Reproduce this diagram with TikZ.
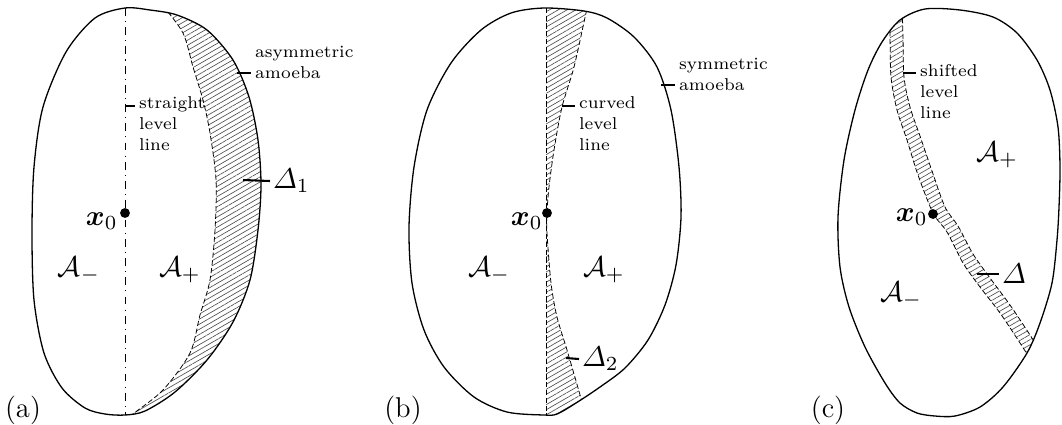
\documentclass[tikz,border=0pt]{standalone}
\usepackage{fix-cm}
\usepackage{amsmath,amssymb}
\usetikzlibrary{patterns.meta, calc}

\newcommand{\shapeA}{plot[smooth cycle] coordinates {(125,8) (150,10) (177,15) (207,30) (233,60) (249,97) (258,140) (261,185) (258,230) (250,280) (233,322) (207,360) (175,392) (145,411) (125,415) (105,414) (85,408) (62,388) (44,353) (34,300) (32,233) (34,167) (43,107) (66,52) (95,18)}}
\newcommand{\shapeB}{plot[smooth cycle] coordinates {(544,8) (584,11) (607,18) (634,37) (657,67) (671,110) (679,167) (681,217) (676,265) (665,305) (648,340) (625,368) (600,387) (576,403) (557,414) (544,415) (507,412) (474,397) (444,367) (424,330) (412,283) (409,227) (414,167) (427,110) (451,63) (481,30) (511,13)}}
\newcommand{\shapeC}{plot[smooth cycle] coordinates {(925,9) (960,10) (993,17) (1017,33) (1037,60) (1050,90) (1058,127) (1060,167) (1059,207) (1057,240) (1052,283) (1040,323) (1027,353) (1003,387) (980,407) (955,416) (935,416) (917,413) (900,403) (885,383) (865,347) (849,307) (840,267) (838,217) (844,160) (855,110) (868,70) (882,42) (900,20)}}

\begin{document}
\begin{tikzpicture}[
    x=0.01352cm, y=-0.01352cm,
    amoeba/.style={line width=0.5pt},
    levelline/.style={dash dot, line width=0.35pt},
    bandedge/.style={dash pattern=on 2pt off 1pt, line width=0.3pt},
    hatch/.style={pattern={Lines[angle=30, distance=1.7pt, line width=0.25pt]}, pattern color=black!70},
    leader/.style={line width=0.8pt},
    note/.style={font=\fontsize{6.6}{8}\selectfont, align=left, inner xsep=1.4pt, inner ysep=0pt},
    mlabel/.style={font=\fontsize{11}{13.6}\selectfont, inner sep=0pt},
    pointdot/.style={circle, fill, inner sep=0pt, minimum size=3.8pt}
]
\useasboundingbox (0,0) rectangle (1062,424);

% (a)
\begin{scope}
  \clip \shapeA;
  \fill[hatch] plot[smooth] coordinates {(163,6) (183,33) (193,67) (203,100) (210,133) (216,180) (215,230) (210,280) (200,315) (190,353) (163,390) (133,414) (128,420)} -- (280,420) -- (280,0) -- cycle;
  \draw[bandedge] plot[smooth] coordinates {(163,6) (183,33) (193,67) (203,100) (210,133) (216,180) (215,230) (210,280) (200,315) (190,353) (163,390) (133,414) (128,420)};
\end{scope}
\draw[amoeba] \shapeA;

\coordinate (a-top) at (125,8);
\coordinate (a-bot) at (125,415);
\draw[levelline] (a-top) -- (a-bot);

\node[pointdot] (a-x0) at (125,213) {};
\node[mlabel, anchor=north east] (a-x0lab) at (118,212) {$\boldsymbol{x}_0$};

\coordinate (a-amo) at (237,73);
\node[note, anchor=south west] (a-amotxt) at (251,79) {asymmetric\\amoeba};
\draw[leader] (a-amo) -- (a-amo -| a-amotxt.west);

\coordinate (a-lev) at (125,106);
\node[note, anchor=north west] (a-levtxt) at (135,96) {straight\\level\\line};
\draw[leader] (a-lev) -- (a-lev -| a-levtxt.west);

\coordinate (a-gap) at (243,180);
\node[mlabel, anchor=west, inner xsep=1pt] (a-gaptxt) at (270,181) {$\varDelta_1$};
\draw[leader] (a-gap) -- (a-gaptxt.west);

\node[mlabel] (a-minus) at (79,270) {$\mathcal{A}_-$};
\node[mlabel] (a-plus) at (180,270) {$\mathcal{A}_+$};
\node[mlabel] (a-tag) at (23,410) {(a)};

% (b)
\begin{scope}
  \clip \shapeB;
  \fill[hatch] (546,0) -- plot[smooth] coordinates {(589,2) (586,13) (574,67) (562,107) (554,150) (549,187) (547,213) (547,233) (551,283) (557,317) (567,350) (582,402) (586,420)} -- (546,420) -- cycle;
  \draw[bandedge] (546,0) -- (546,420);
  \draw[bandedge] plot[smooth] coordinates {(589,2) (586,13) (574,67) (562,107) (554,150) (549,187) (547,213) (547,233) (551,283) (557,317) (567,350) (582,402) (586,420)};
\end{scope}
\draw[amoeba] \shapeB;

\node[pointdot] (b-x0) at (547,213) {};
\node[mlabel, anchor=north east] (b-x0lab) at (543,212) {$\boldsymbol{x}_0$};

\coordinate (b-amo) at (661,85);
\node[note, anchor=south west] (b-amotxt) at (675,91) {symmetric\\amoeba};
\draw[leader] (b-amo) -- (b-amo -| b-amotxt.west);

\coordinate (b-lev) at (562,106);
\node[note, anchor=north west] (b-levtxt) at (575,96) {curved\\level\\line};
\draw[leader] (b-lev) -- (b-lev -| b-levtxt.west);

\coordinate (b-gap) at (566,358);
\node[mlabel, anchor=west, inner xsep=1pt] (b-gaptxt) at (579,359) {$\varDelta_2$};
\draw[leader] (b-gap) -- (b-gaptxt.west);

\node[mlabel] (b-minus) at (489,270) {$\mathcal{A}_-$};
\node[mlabel] (b-plus) at (604,270) {$\mathcal{A}_+$};
\node[mlabel] (b-tag) at (403,410) {(b)};

% (c)
\begin{scope}
  \clip \shapeC;
  \fill[hatch] plot[smooth] coordinates {(889,0) (890,37) (891,77) (897,110) (907,140) (918,175) (933,213) (947,232) (963,263) (980,287) (1000,313) (1020,343) (1032,362)} -- plot[smooth] coordinates {(1042,354) (1030,335) (1010,305) (990,278) (973,254) (958,226) (945,207) (932,171) (920,136) (910,107) (904,77) (903,37) (902,0)} -- cycle;
  \draw[bandedge] plot[smooth] coordinates {(889,0) (890,37) (891,77) (897,110) (907,140) (918,175) (933,213) (947,232) (963,263) (980,287) (1000,313) (1020,343) (1032,362)};
  \draw[bandedge] plot[smooth] coordinates {(1042,354) (1030,335) (1010,305) (990,278) (973,254) (958,226) (945,207) (932,171) (920,136) (910,107) (904,77) (903,37) (902,0)};
\end{scope}
\draw[amoeba] \shapeC;

\node[pointdot] (c-x0) at (933,214) {};
\node[mlabel, anchor=north east] (c-x0lab) at (928,208) {$\boldsymbol{x}_0$};

\coordinate (c-lev) at (903,73);
\node[note, anchor=north west] (c-levtxt) at (916,64) {shifted\\level\\line};
\draw[leader] (c-lev) -- (c-lev -| c-levtxt.west);

\coordinate (c-gap) at (977,274);
\node[mlabel, anchor=west, inner xsep=1pt] (c-gaptxt) at (999,274) {$\varDelta$};
\draw[leader] (c-gap) -- (c-gaptxt.west);

\node[mlabel] (c-plus) at (997,155) {$\mathcal{A}_+$};
\node[mlabel] (c-minus) at (901,295) {$\mathcal{A}_-$};
\node[mlabel] (c-tag) at (828,410) {(c)};

\end{tikzpicture}
\end{document}
